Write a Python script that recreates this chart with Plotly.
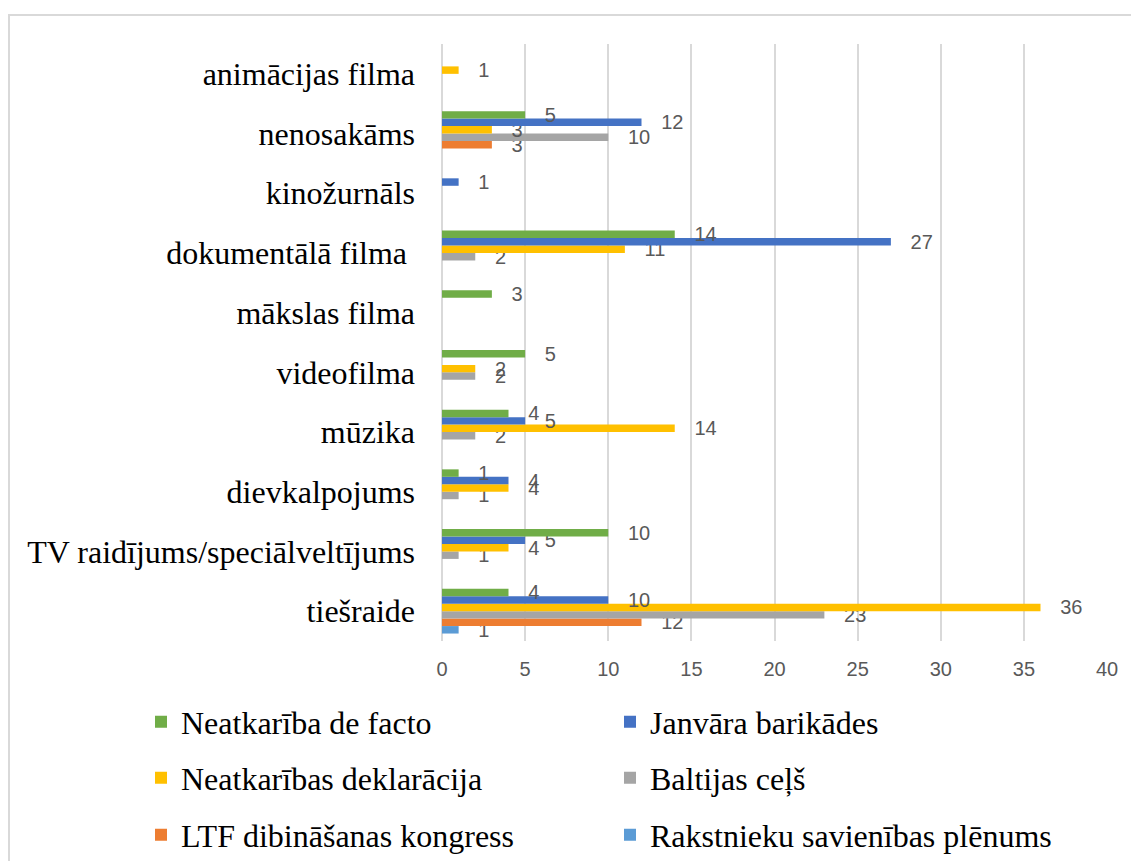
import plotly.graph_objects as go

categories = ["tiešraide", "TV raidījums/speciālveltījums", "dievkalpojums", "mūzika",
              "videofilma", "mākslas filma", "dokumentālā filma ", "kinožurnāls",
              "nenosakāms", "animācijas filma"]

neatkariba_de_facto = [4, 10, 1, 4, 5, 3, 14, None, 5, None]
janvara_barikades = [10, 5, 4, 5, None, None, 27, 1, 12, None]
neatkaribas_deklaracija = [36, 4, 4, 14, 2, None, 11, None, 3, 1]
baltijas_cels = [23, 1, 1, 2, 2, None, 2, None, 10, None]
ltf_kongress = [12, None, None, None, None, None, None, None, 3, None]
rakstnieku_plenums = [1, None, None, None, None, None, None, None, None, None]

x_ticks = [0, 5, 10, 15, 20, 25, 30, 35, 40]

# bottom-to-top order within each group
series = [
    ("Rakstnieku savienības plēnums", rakstnieku_plenums, "#5B9BD5", "legend3"),
    ("LTF dibināšanas kongress", ltf_kongress, "#ED7D31", "legend3"),
    ("Baltijas ceļš", baltijas_cels, "#A5A5A5", "legend2"),
    ("Neatkarības deklarācija", neatkaribas_deklaracija, "#FFC000", "legend2"),
    ("Janvāra barikādes", janvara_barikades, "#4472C4", "legend"),
    ("Neatkarība de facto", neatkariba_de_facto, "#70AD47", "legend"),
]

# figure geometry (page has an 8px body margin)
W, H = 1139, 861
L, T, PW, PH = 434, 36, 665, 597
B = H - T - PH
R = W - L - PW

def px_x(x):
    return (x - L) / PW

def px_y(y):
    return (T + PH - y) / PH

fig = go.Figure()
for name, vals, color, leg in series:
    fig.add_trace(go.Bar(
        name=name, y=categories, x=vals, orientation="h",
        marker=dict(color=color, line=dict(width=0)),
        texttemplate="   %{x}", textposition="outside",
        textfont=dict(family="Liberation Sans", size=20, color="#595959"),
        constraintext="none", cliponaxis=False, legend=leg,
    ))

legend_common = dict(
    orientation="h", xref="paper", yref="paper",
    x=px_x(133), xanchor="left", yanchor="middle",
    font=dict(family="Liberation Serif", size=32, color="#000000"),
    entrywidth=424, entrywidthmode="pixels", traceorder="reversed",
    bgcolor="rgba(0,0,0,0)",
)

fig.update_layout(
    width=W, height=H, autosize=False,
    margin=dict(l=L, r=R, t=T, b=B, autoexpand=False),
    paper_bgcolor="white", plot_bgcolor="white",
    barmode="group", bargap=0.25, bargroupgap=0,
    xaxis=dict(range=[0, 40], tickvals=x_ticks, showgrid=True,
               gridcolor="#D9D9D9", gridwidth=2, zeroline=True,
               zerolinecolor="#D9D9D9", zerolinewidth=2, showline=False,
               tickfont=dict(family="Liberation Sans", size=20, color="#595959"),
               ticks="", ticklabelstandoff=14, fixedrange=True, automargin=False),
    yaxis=dict(categoryorder="array", categoryarray=categories,
               showgrid=False, zeroline=False, showline=False, ticks="",
               tickfont=dict(family="Liberation Serif", size=32, color="#000000"),
               ticklabelstandoff=26, automargin=False),
    legend=dict(legend_common, y=px_y(714)),
    legend2=dict(legend_common, y=px_y(770)),
    legend3=dict(legend_common, y=px_y(827)),
    shapes=[dict(type="rect", xref="paper", yref="paper",
                 x0=px_x(1), x1=px_x(1200),
                 y0=px_y(900), y1=px_y(7),
                 line=dict(color="#D9D9D9", width=2), fillcolor="rgba(0,0,0,0)",
                 layer="below")],
)

fig.write_html("out.html")
